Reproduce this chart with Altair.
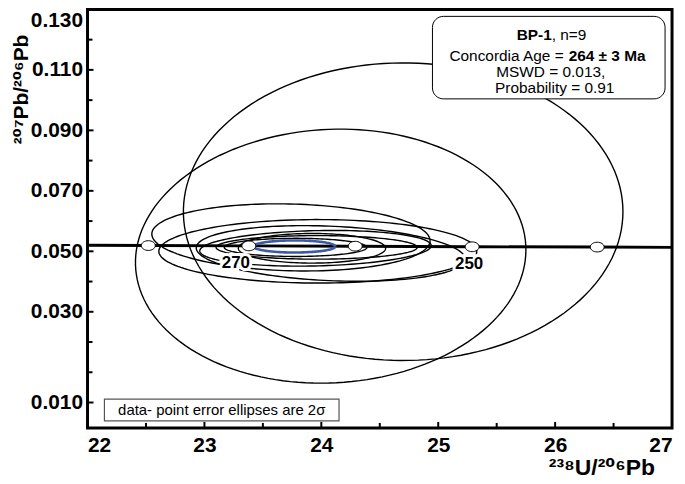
import numpy as np
import pandas as pd
import altair as alt

FONT = "Liberation Sans, Arial, DejaVu Sans, sans-serif"

# ---------------- axis ticks ----------------
x_major = [22, 23, 24, 25, 26, 27]
x_minor = [22.5, 23.5, 24.5, 25.5, 26.5]
y_major = [0.13, 0.11, 0.09, 0.07, 0.05, 0.03, 0.0]
y_major_labels = ["0.130", "0.110", "0.090", "0.070", "0.050", "0.030", "0.010"]
y_minor = [0.12, 0.10, 0.08, 0.06, 0.04, 0.02, 0.01]

# ---------------- concordia curve ----------------
conc_x = [22.0, 22.52, 23.38, 24.29, 25.29, 26.36, 27.0]
conc_y = [0.0520, 0.0519, 0.0518, 0.0517, 0.0515, 0.0514, 0.0513]
marker_age = [280, 270, 260, 250, 240]
marker_x = [22.52, 23.38, 24.29, 25.29, 26.36]
marker_y = [0.0519, 0.0518, 0.0517, 0.0515, 0.0514]

# ---------------- data-point error ellipses (2 sigma) ----------------
ell_id = ["1", "2", "3", "4", "5", "6", "7", "8", "9"]
ell_cx = [24.70, 24.08, 23.74, 23.97, 24.08, 23.95, 23.96, 23.78, 23.92]
ell_cy = [0.0631, 0.0484, 0.0546, 0.0500, 0.0493, 0.0510, 0.0513, 0.0513, 0.0510]
ell_ax = [1.88, 1.67, 1.19, 1.36, 1.15, 0.99, 0.86, 0.61, 0.63]
ell_by = [0.0492, 0.0420, 0.0111, 0.0105, 0.0092, 0.0059, 0.0039, 0.0030, 0.0049]
ell_rho = [0.0, 0.05, -0.10, 0.0, -0.20, 0.15, 0.0, 0.0, 0.0]

# concordia age ellipse
mean_cx, mean_cy, mean_ax, mean_by = 23.77, 0.0516, 0.35, 0.0020


def outline(ids, cxs, cys, axs, bys, rhos, n=160):
    rows = []
    t = np.linspace(0, 2 * np.pi, n)
    for k, cx, cy, a, b, r in zip(ids, cxs, cys, axs, bys, rhos):
        xs = cx + a * np.cos(t)
        ys = cy + b * (r * np.cos(t) + np.sqrt(1 - r * r) * np.sin(t))
        for i, (xx, yy) in enumerate(zip(xs, ys)):
            rows.append({"id": k, "i": i, "x": xx, "y": yy})
    return pd.DataFrame(rows)


ell_df = outline(ell_id, ell_cx, ell_cy, ell_ax, ell_by, ell_rho)
mean_df = outline(["mean"], [mean_cx], [mean_cy], [mean_ax], [mean_by], [0.0])
conc_df = pd.DataFrame({"x": conc_x, "y": conc_y})
mark_df = pd.DataFrame({"age": marker_age, "x": marker_x, "y": marker_y})

W, H = 588, 421

xscale = alt.Scale(domain=[22, 27], nice=False, zero=False)
yscale = alt.Scale(domain=[-0.0084, 0.13], nice=False, zero=False)

expr = "''"
for v, lab in zip(reversed(y_major), reversed(y_major_labels)):
    expr = f"abs(datum.value - ({v})) < 1e-6 ? '{lab}' : ({expr})"

xaxis = alt.Axis(values=x_major, format="d", title="²³⁸U/²⁰⁶Pb", ticks=False, domain=False,
                 grid=False, labelPadding=7, titleX=517, titleY=40, titleAlign="center",
                 titleBaseline="middle", titleFontSize=23, titleFont=FONT, titleFontWeight="bold")
yaxis = alt.Axis(values=y_major, labelExpr=expr, title="²⁰⁷Pb/²⁰⁶Pb", ticks=False, domain=False,
                 grid=False, labelPadding=5, labelFlush=True, titleX=-66, titleY=80, titleAngle=-90,
                 titleAlign="center", titleBaseline="middle", titleFontSize=21, titleFont=FONT,
                 titleFontWeight="bold")


def X(f="x"):
    return alt.X(f + ":Q", scale=xscale, axis=xaxis)


def Y(f="y"):
    return alt.Y(f + ":Q", scale=yscale, axis=yaxis)


ellipses = alt.Chart(ell_df).mark_line(color="black", strokeWidth=1.4, clip=True).encode(
    x=X(), y=Y(), detail="id:N", order="i:Q")

mean_ell = alt.Chart(mean_df).mark_line(color="#3b5aa8", strokeWidth=2.6).encode(
    x=X(), y=Y(), order="i:Q")

conc = alt.Chart(conc_df).mark_line(color="black", strokeWidth=3).encode(x=X(), y=Y())

oval = "M-1,0A1,0.7,0,1,1,1,0A1,0.7,0,1,1,-1,0Z"
markers = alt.Chart(mark_df).mark_point(shape=oval, size=196, filled=True, fill="white",
                                         stroke="black", strokeWidth=1, opacity=1).encode(x=X(), y=Y())


def age_label(age, dx):
    base = alt.Chart(mark_df).transform_filter(alt.datum.age == age)
    halo = base.mark_text(font=FONT, fontSize=17, fontWeight="bold", stroke="white",
                          strokeWidth=6, dx=dx, dy=17).encode(x=X(), y=Y(), text="age:N")
    txt_ = base.mark_text(font=FONT, fontSize=17, fontWeight="bold", color="black",
                          dx=dx, dy=17).encode(x=X(), y=Y(), text="age:N")
    return [halo, txt_]


labels = age_label(270, -13) + age_label(250, -3)

# axis ticks drawn inward
xt_major = alt.Chart(pd.DataFrame({"v": x_major})).mark_rule(color="black", strokeWidth=2).encode(
    x=X("v"), y=alt.value(H), y2=alt.value(H - 6))
xt_minor = alt.Chart(pd.DataFrame({"v": x_minor})).mark_rule(color="black", strokeWidth=2).encode(
    x=X("v"), y=alt.value(H), y2=alt.value(H - 5))
yt_major = alt.Chart(pd.DataFrame({"v": y_major})).mark_rule(color="black", strokeWidth=2).encode(
    y=Y("v"), x=alt.value(0), x2=alt.value(6))
yt_minor = alt.Chart(pd.DataFrame({"v": y_minor})).mark_rule(color="black", strokeWidth=2).encode(
    y=Y("v"), x=alt.value(0), x2=alt.value(5))

one = pd.DataFrame({"a": [0]})

info_box = alt.Chart(one).mark_rect(fill="white", stroke="black", strokeWidth=1, cornerRadius=11).encode(
    x=alt.value(347), x2=alt.value(581), y=alt.value(7), y2=alt.value(90))


def txt(s, x, y, align="center", weight="normal", size=15.5):
    return alt.Chart(one).mark_text(text=s, font=FONT, fontSize=size, fontWeight=weight, align=align,
                                    baseline="alphabetic", color="black").encode(
        x=alt.value(x), y=alt.value(y))


info = [
    txt("BP-1", 467, 31, "right", "bold"),
    txt(", n=9", 467, 31, "left"),
    txt("Concordia Age =", 479, 52, "right"),
    txt("264 ± 3 Ma", 484, 52, "left", "bold"),
    txt("MSWD = 0.013,", 466, 68, "center"),
    txt("Probability = 0.91", 470, 84, "center"),
]

note_box = alt.Chart(one).mark_rect(fill="white", stroke="#555555", strokeWidth=1.2).encode(
    x=alt.value(17), x2=alt.value(253), y=alt.value(392), y2=alt.value(414))
note = txt("data- point error ellipses are 2σ", 135, 408, "center", "normal", 15)

chart = alt.layer(
    ellipses, conc, mean_ell, markers, *labels,
    xt_major, xt_minor, yt_major, yt_minor,
    info_box, *info, note_box, note,
).properties(
    width=W, height=H,
    autosize=alt.AutoSizeParams(type="none"),
    padding={"left": 80, "top": 0, "right": 5, "bottom": 52},
).configure_view(
    stroke="black", strokeWidth=3
).configure_axis(
    labelFont=FONT, labelFontSize=21, labelFontWeight="bold", labelColor="black", titleColor="black"
)

chart.save("out.html", embed_options={"renderer": "svg", "actions": False})
